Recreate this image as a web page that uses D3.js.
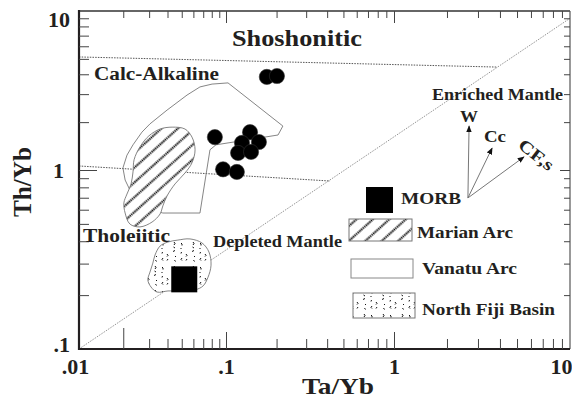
<!DOCTYPE html>
<html>
<head>
<meta charset="utf-8">
<script src="https://cdn.jsdelivr.net/npm/d3@7"></script>
<style>
  body { margin: 0; background: #fff; }
  text { font-family: "Liberation Serif", "Times New Roman", serif; font-weight: bold; fill: #231f20; }
</style>
</head>
<body>
<svg id="chart" width="572" height="399"></svg>
<script>
// Axis ticks and labels
const xMajor = [0.01, 0.1, 1, 10];
const xMajorLabels = [".01", ".1", "1", "10"];
const yMajor = [0.1, 1, 10];
const yMajorLabels = [".1", "1", "10"];

// Sample analyses (Ta/Yb, Th/Yb)
const sampleTa = [0.175, 0.201, 0.084, 0.139, 0.1245, 0.157, 0.118, 0.141, 0.0955, 0.116];
const sampleTh = [3.85, 3.90, 1.61, 1.73, 1.48, 1.50, 1.28, 1.30, 1.01, 0.975];

// MORB reference composition
const morb = [0.052, 0.245];

// Field boundaries
const shoshoniticBoundary = [[0.01, 5.14], [3.85, 4.44]];
const tholeiiticBoundary = [[0.01, 1.06], [0.416, 0.868]];
const mantleArray = [[0.01, 0.1], [10, 9.0]];

// Vanatu arc field
const vanatuArc = [
  [0.1028, 3.53], [0.218, 1.89], [0.204, 1.66], [0.0855, 1.44], [0.0778, 1.34],
  [0.0665, 0.575], [0.0372, 0.575], [0.0281, 0.614], [0.0222, 0.773], [0.0206, 0.879],
  [0.0199, 1.03], [0.0212, 1.24], [0.0233, 1.44], [0.0268, 1.73], [0.0304, 1.95],
  [0.0397, 2.38], [0.0543, 2.96], [0.0665, 3.33], [0.0804, 3.47]
];

// Marian arc field
const marianArc = [
  [0.0356, 1.81], [0.0430, 1.86], [0.0526, 1.81], [0.0587, 1.61], [0.0616, 1.34],
  [0.0587, 1.11], [0.0526, 0.962], [0.0450, 0.836], [0.0397, 0.716], [0.0372, 0.630],
  [0.0356, 0.568], [0.0314, 0.512], [0.0260, 0.481], [0.0222, 0.499], [0.0206, 0.575],
  [0.0202, 0.655], [0.0212, 0.734], [0.0226, 0.836], [0.0233, 0.975], [0.0237, 1.16],
  [0.0260, 1.40], [0.0299, 1.64]
];

// North Fiji Basin field
const northFiji = [
  [0.0356, 0.376], [0.0403, 0.396], [0.0471, 0.406], [0.0569, 0.412], [0.0687, 0.391],
  [0.0766, 0.348], [0.0791, 0.294], [0.0755, 0.252], [0.0698, 0.225], [0.0616, 0.214],
  [0.0487, 0.211], [0.0403, 0.211], [0.0340, 0.208], [0.0309, 0.222], [0.0294, 0.243],
  [0.0304, 0.269], [0.0318, 0.302], [0.0329, 0.335]
];

// Enriched mantle vectors: start and end points
const vectorStart = [2.63, 0.698];
const vectorNames = ["W", "Cc", "CF,s"];
const vectorEnds = [[2.67, 1.89], [3.61, 1.375], [5.48, 1.21]];

const svg = d3.select("#chart");
const L = 79, R = 570, T = 11, B = 349;

const x = d3.scaleLog().domain([0.01, 0.1, 1, 10]).range([L, 226, 394, R]);
const y = d3.scaleLog().domain([0.1, 1, 10]).range([B, 170, T]);

const decades = (lo, hi) => {
  const out = [];
  for (let p = lo; p < hi; p++) for (let m = 2; m <= 9; m++) out.push(+(m * Math.pow(10, p)).toPrecision(3));
  return out;
};
const xMinor = decades(-2, 1);
const yMinor = decades(-1, 1);

const defs = svg.append("defs");

// diagonal dotted hatching
const hatch = defs.append("pattern").attr("id", "hatch")
  .attr("patternUnits", "userSpaceOnUse").attr("width", 11).attr("height", 11)
  .attr("patternTransform", "rotate(-42)");
hatch.append("rect").attr("width", 11).attr("height", 11).attr("fill", "#fff");
hatch.append("line").attr("x1", 0).attr("y1", 5.5).attr("x2", 11).attr("y2", 5.5)
  .attr("stroke", "#000").attr("stroke-width", 2.1).attr("stroke-dasharray", "1.5 0.7");

// scattered specks
const speck = defs.append("pattern").attr("id", "speck")
  .attr("patternUnits", "userSpaceOnUse").attr("width", 19).attr("height", 24);
speck.append("rect").attr("width", 19).attr("height", 24).attr("fill", "#fff");
[
  "M3,2 l1,1.5 l-1,1.5 M2.5,7 l1.5,1 M3.5,10 l-1,2",
  "M10,3 l1,1 l0,1.5 M9.5,8 l1,1 M10.5,12 l-0.5,1.5",
  "M15,14 l1,1.5 l-1,1 M16,19 l-1,1.5",
  "M4,16 l1,1 M3.5,20 l1,1.5",
  "M11,18 l-1,1.5 l1,1"
].forEach(d => speck.append("path").attr("d", d).attr("fill", "none")
  .attr("stroke", "#111").attr("stroke-width", 1));

// arrow head
defs.append("marker").attr("id", "arrow").attr("viewBox", "0 0 10 10")
  .attr("refX", 9).attr("refY", 5).attr("markerWidth", 7).attr("markerHeight", 7)
  .attr("markerUnits", "userSpaceOnUse").attr("orient", "auto")
  .append("path").attr("d", "M0,1 L10,5 L0,9 Z").attr("fill", "#111");

const line = d3.line().x(d => x(d[0])).y(d => y(d[1]));

// boundary lines
[shoshoniticBoundary, tholeiiticBoundary].forEach(seg => {
  svg.append("path").attr("d", line(seg)).attr("fill", "none")
    .attr("stroke", "#555").attr("stroke-width", 1).attr("stroke-dasharray", "1.5 1.2");
});
svg.append("path").attr("d", line(mantleArray)).attr("fill", "none")
  .attr("stroke", "#888").attr("stroke-width", 0.9).attr("stroke-dasharray", "1.5 1.2");

// fields
const closed = d3.line().x(d => x(d[0])).y(d => y(d[1])).curve(d3.curveLinearClosed);
const smooth = d3.line().x(d => x(d[0])).y(d => y(d[1])).curve(d3.curveCatmullRomClosed.alpha(0.5));

svg.append("path").attr("d", closed(vanatuArc)).attr("fill", "none")
  .attr("stroke", "#777").attr("stroke-width", 0.9);
svg.append("path").attr("d", smooth(marianArc)).attr("fill", "url(#hatch)")
  .attr("stroke", "#777").attr("stroke-width", 0.9);
svg.append("path").attr("d", smooth(northFiji)).attr("fill", "url(#speck)")
  .attr("stroke", "#777").attr("stroke-width", 0.9);

// MORB
const morbSize = 26;
svg.append("rect")
  .attr("x", x(morb[0]) - morbSize / 2).attr("y", y(morb[1]) - morbSize / 2)
  .attr("width", morbSize).attr("height", morbSize).attr("fill", "#000");

// samples
svg.append("g").selectAll("circle").data(sampleTa).join("circle")
  .attr("cx", d => x(d)).attr("cy", (d, i) => y(sampleTh[i])).attr("r", 7.6)
  .attr("fill", "#000").attr("stroke", "#333").attr("stroke-width", 0.6);

// enriched mantle vectors
vectorEnds.forEach(e => {
  svg.append("line")
    .attr("x1", x(vectorStart[0])).attr("y1", y(vectorStart[1]))
    .attr("x2", x(e[0])).attr("y2", y(e[1]))
    .attr("stroke", "#777").attr("stroke-width", 1).attr("marker-end", "url(#arrow)");
});

// frame
svg.append("line").attr("x1", L).attr("x2", R).attr("y1", T).attr("y2", T).attr("stroke", "#333").attr("stroke-width", 1.6);
svg.append("line").attr("x1", R).attr("x2", R).attr("y1", T).attr("y2", B).attr("stroke", "#555").attr("stroke-width", 1.2);
svg.append("line").attr("x1", L).attr("x2", L).attr("y1", T - 1).attr("y2", B + 1).attr("stroke", "#231f20").attr("stroke-width", 2.2);
svg.append("line").attr("x1", L - 1).attr("x2", R).attr("y1", B).attr("y2", B).attr("stroke", "#231f20").attr("stroke-width", 2.2);

// ticks
function ticks(axisFn, scale, values, size, tx, ty) {
  const g = svg.append("g").attr("transform", `translate(${tx},${ty})`)
    .call(axisFn(scale).tickValues(values).tickSizeInner(size).tickSizeOuter(0).tickFormat(""));
  g.select(".domain").remove();
  g.selectAll(".tick line").attr("stroke", "#444").attr("stroke-width", 1);
  return g;
}
ticks(d3.axisBottom, x, xMinor.filter(v => v !== 0.02), -10, 0, B);
ticks(d3.axisBottom, x, [0.02], -21, 0, B);
ticks(d3.axisBottom, x, [0.1, 1], -17, 0, B);
ticks(d3.axisTop, x, xMinor, -7, 0, T);
ticks(d3.axisTop, x, [0.1, 1], -12, 0, T);
ticks(d3.axisLeft, y, yMinor, -10, L, 0);
ticks(d3.axisLeft, y, [1], -18, L, 0);
ticks(d3.axisRight, y, yMinor, -6, R, 0);
ticks(d3.axisRight, y, [1], -10, R, 0);

// tick labels
const xl = svg.append("g").attr("transform", `translate(0,${B})`)
  .call(d3.axisBottom(x).tickValues(xMajor).tickSize(0).tickPadding(9)
    .tickFormat((d, i) => xMajorLabels[i]));
xl.select(".domain").remove();
xl.selectAll("text").style("font-size", "22px").attr("fill", "#231f20")
  .attr("text-anchor", d => d === 10 ? "end" : "middle")
  .attr("dx", d => d === 10 ? 2 : d === 0.01 ? -4 : 0);

const yl = svg.append("g").attr("transform", `translate(${L},0)`)
  .call(d3.axisLeft(y).tickValues(yMajor).tickSize(0).tickPadding(9)
    .tickFormat((d, i) => yMajorLabels[i]));
yl.select(".domain").remove();
yl.selectAll("text").style("font-size", "22px").attr("fill", "#231f20")
  .attr("dy", d => d === 10 ? "0.72em" : d === 0.1 ? "0.12em" : "0.32em")
  .attr("dx", d => d === 1 ? -6 : 0);

// axis titles
svg.append("text").attr("x", 338).attr("y", 394).attr("text-anchor", "middle")
  .style("font-size", "24px").attr("textLength", 72).attr("lengthAdjust", "spacingAndGlyphs").text("Ta/Yb");
svg.append("text").attr("transform", "translate(31,182) rotate(-90)").attr("text-anchor", "middle")
  .style("font-size", "25px").attr("textLength", 70).attr("lengthAdjust", "spacingAndGlyphs").text("Th/Yb");

// field names and annotations
const labels = [
  { t: "Shoshonitic", x: 232, y: 46, s: 23, w: 130 },
  { t: "Calc-Alkaline", x: 94, y: 80, s: 18, w: 125 },
  { t: "Tholeiitic", x: 83, y: 242, s: 18, w: 87 },
  { t: "Depleted Mantle", x: 213, y: 247, s: 16, w: 129 },
  { t: "Enriched Mantle", x: 432, y: 100, s: 16, w: 131 },
  { t: "W", x: 460, y: 122, s: 17, w: 18 },
  { t: "Cc", x: 484, y: 142, s: 17, w: 22 },
  { t: "MORB", x: 401, y: 204, s: 17, w: 60 },
  { t: "Marian Arc", x: 417, y: 238, s: 17, w: 96 },
  { t: "Vanatu Arc", x: 422, y: 274, s: 17, w: 95 },
  { t: "North Fiji Basin", x: 422, y: 315, s: 17, w: 133 }
];
labels.forEach(l => svg.append("text").attr("x", l.x).attr("y", l.y)
  .style("font-size", l.s + "px").attr("textLength", l.w).attr("lengthAdjust", "spacingAndGlyphs").text(l.t));
svg.append("text").attr("transform", "translate(517,147) rotate(38)")
  .style("font-size", "17px").attr("textLength", 40).attr("lengthAdjust", "spacingAndGlyphs").text("CF,s");

// legend swatches
svg.append("rect").attr("x", 366).attr("y", 187).attr("width", 27).attr("height", 26).attr("fill", "#000");
svg.append("rect").attr("x", 349).attr("y", 219).attr("width", 63).attr("height", 22)
  .attr("fill", "url(#hatch)").attr("stroke", "#777").attr("stroke-width", 1);
svg.append("rect").attr("x", 351).attr("y", 259).attr("width", 62).attr("height", 19)
  .attr("fill", "#fff").attr("stroke", "#888").attr("stroke-width", 1);
svg.append("rect").attr("x", 353).attr("y", 293).attr("width", 62).attr("height", 25)
  .attr("fill", "url(#speck)").attr("stroke", "#777").attr("stroke-width", 1);
</script>
</body>
</html>
